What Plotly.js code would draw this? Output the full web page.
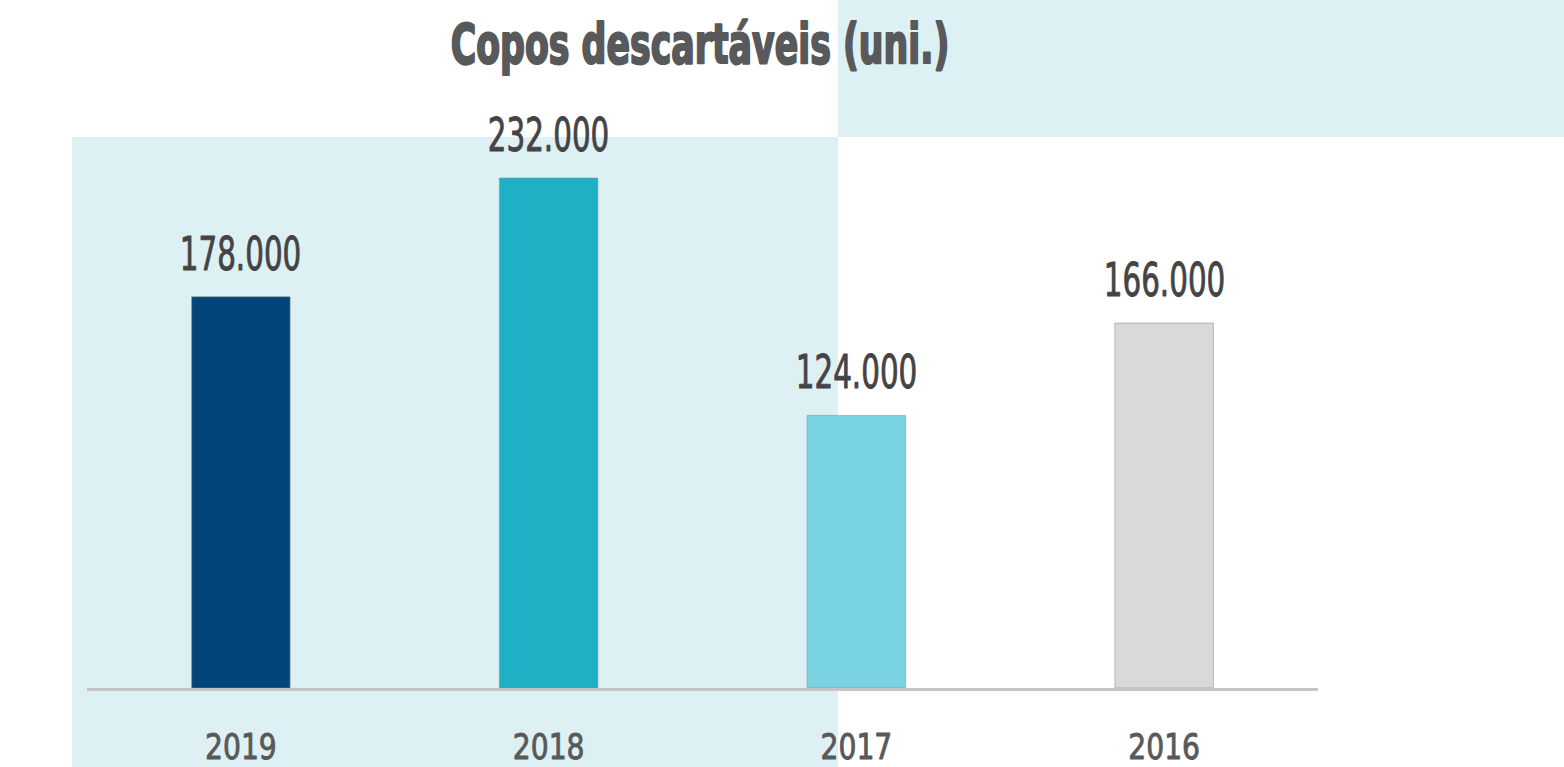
<!DOCTYPE html>
<html>
<head>
<meta charset="utf-8">
<script src="https://cdn.plot.ly/plotly-3.0.1.min.js"></script>
<style>html,body{margin:0;padding:0;background:#fff;}#chart{width:1564px;height:767px;}</style>
</head>
<body>
<div id="chart"></div>
<script>
const categories = ["2019", "2018", "2017", "2016"];
const values = [178000, 232000, 124000, 166000];
const labels = ["178.000", "232.000", "124.000", "166.000"];
const barColors = ["#02457A", "#1EB0C4", "#7AD3E3", "#D9D9D9"];
const chartTitle = "Copos descartáveis (uni.)";

const FONT = "DejaVu Sans Condensed, Liberation Sans Narrow, sans-serif";

const trace = {
  type: "bar",
  x: categories,
  y: values,
  width: 0.32,
  marker: { color: barColors, line: { color: "rgba(140,140,140,0.55)", width: 1 } },
  hoverinfo: "none"
};

const annotations = categories.map((c, i) => ({
  x: i, y: values[i], xref: "x", yref: "y",
  text: labels[i], showarrow: false,
  yanchor: "bottom", yshift: 14,
  font: { family: FONT, size: 46, color: "#444444" }
}));

const shapes = [
  { type: "rect", xref: "paper", yref: "paper", x0: -0.0122, x1: 0.6101, y0: -0.1436, y1: 1.0018,
    fillcolor: "#DDF1F5", line: { width: 0 }, layer: "below" },
  { type: "rect", xref: "paper", yref: "paper", x0: 0.6101, x1: 1.2, y0: 1.0018, y1: 1.2509,
    fillcolor: "#DDF1F5", line: { width: 0 }, layer: "below" }
];

const layout = {
  width: 1564, height: 767,
  margin: { l: 87, r: 246, t: 138, b: 79 },
  paper_bgcolor: "#ffffff",
  plot_bgcolor: "rgba(0,0,0,0)",
  showlegend: false,
  title: {
    text: "<b>" + chartTitle + "</b>",
    xref: "container", yref: "container",
    x: 700 / 1564, xanchor: "center",
    y: 1 - 24 / 767, yanchor: "top",
    font: { family: FONT, size: 56, color: "#58595B" }
  },
  xaxis: {
    type: "category",
    range: [-0.5, 3.5],
    showgrid: false, zeroline: false,
    showline: true, linecolor: "#C4C4C4", linewidth: 3,
    ticks: "", ticklabelstandoff: 25,
    tickfont: { family: FONT, size: 36, color: "#595959" },
    fixedrange: true
  },
  yaxis: {
    range: [0, 250200],
    showgrid: false, zeroline: false, showline: false,
    showticklabels: false, ticks: "",
    fixedrange: true
  },
  shapes: shapes,
  annotations: annotations
};

function squeeze(root, selector, sx, strokeW, strokeC) {
  root.querySelectorAll(selector).forEach(el => {
    const x = parseFloat(el.getAttribute("x")) || 0;
    const prev = el.getAttribute("transform") || "";
    el.setAttribute("transform", prev + " translate(" + x + ",0) scale(" + sx + ",1) translate(" + (-x) + ",0)");
    if (strokeW) {
      el.style.stroke = strokeC;
      el.style.strokeWidth = strokeW + "px";
      el.style.strokeLinejoin = "round";
    }
  });
}

const gd = document.getElementById("chart");
Plotly.newPlot(gd, [trace], layout, { displayModeBar: false, staticPlot: true }).then(() => {
  squeeze(gd, "text.gtitle", 0.69, 2.2, "#58595B");
  squeeze(gd, "text.annotation-text", 0.71, 0.9, "#444444");
  squeeze(gd, "g.xtick text", 0.87, 0.9, "#595959");
});
</script>
</body>
</html>
